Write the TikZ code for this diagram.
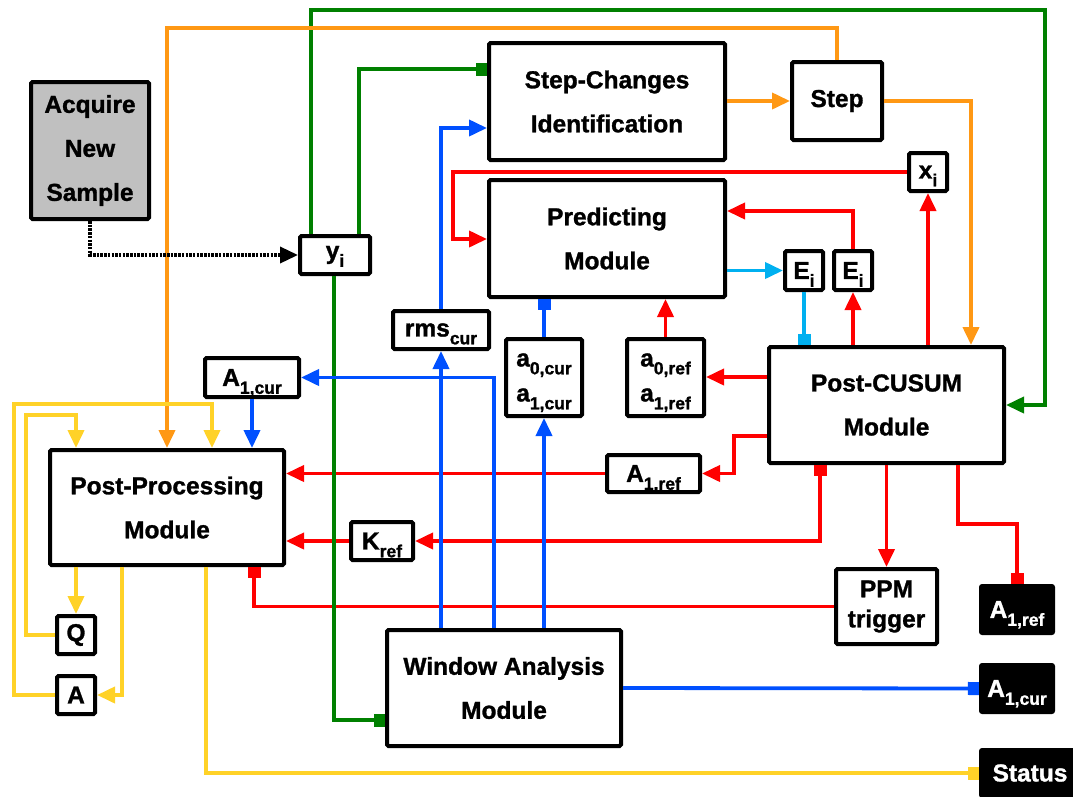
\documentclass[tikz,border=0pt]{standalone}
\usepackage{fontspec}
\setmainfont{Liberation Sans}[BoldFeatures={FakeBold=1.2}]
\usetikzlibrary{arrows.meta}
% subscript that hangs below the baseline without changing the line's depth
\newcommand{\lowidx}[1]{\raisebox{-0.32em}[0pt][0pt]{\fontsize{17.5}{17.5}\selectfont #1}}
\definecolor{wgreen}{RGB}{0,128,0}
\definecolor{worange}{RGB}{255,152,20}
\definecolor{wblue}{RGB}{0,80,255}
\definecolor{wcyan}{RGB}{0,176,240}
\definecolor{wred}{RGB}{255,0,0}
\definecolor{wyellow}{RGB}{255,210,40}
\definecolor{wgray}{RGB}{192,192,192}
\begin{document}
\begin{tikzpicture}[x=1pt,y=-1pt,
  box/.style={draw, line width=4pt, rounded corners=1.5pt, inner sep=0pt, align=center,
    font=\bfseries\fontsize{24.5}{44}\selectfont},
  outbox/.style={fill=black, text=white, rounded corners=3pt, inner sep=0pt, align=center,
    font=\bfseries\fontsize{24.5}{30}\selectfont},
  sz/.style n args={2}{minimum width=#1pt, minimum height=#2pt},
  wire/.style={line width=3.8pt},
  arr/.style={-{Triangle[length=18pt,width=16pt]}},
  sq/.style={-{Square[length=11pt,width=13pt]}},
  sqarr/.style={{Triangle[length=18pt,width=16pt]}-{Square[length=11pt,width=13pt]}},
]
\path[fill=white,use as bounding box] (0,0) rectangle (1073,796);

% ---- blocks ----
\node[box, fill=wgray, sz={118}{137}] (acq) at (90,150.5) {Acquire\\New\\Sample};
\node[box, sz={236}{117}] (sci) at (607,101.5) {Step-Changes\\Identification};
\node[box, sz={90}{78}] (step) at (837,101) {Step};
\node[box, sz={236}{117}] (pred) at (607,238.5) {Predicting\\Module};
\node[box, sz={38}{38}] (xi) at (928,172) {x\lowidx{i}};
\node[box, sz={38}{39}] (e1) at (804,270.5) {E\lowidx{i}};
\node[box, sz={38}{39}] (e2) at (853,270.5) {E\lowidx{i}};
\node[box, sz={70}{38}] (yi) at (335,255) {y\lowidx{i}};
\node[box, sz={96}{38}] (rms) at (441,330) {rms\lowidx{cur}};
\node[box, sz={76}{77}, font=\bfseries\fontsize{24.5}{35}\selectfont] (acur) at (544,377.5)
  {a\lowidx{0,cur}\\a\lowidx{1,cur}};
\node[box, sz={77}{77}, font=\bfseries\fontsize{24.5}{35}\selectfont] (aref) at (665.5,377.5)
  {a\lowidx{0,ref}\\a\lowidx{1,ref}};
\node[box, sz={235}{116}] (pc) at (886.5,405) {Post-CUSUM\\Module};
\node[box, sz={93}{37}] (a1ref) at (653.5,473.5) {A\lowidx{1,ref}};
\node[box, sz={101}{75}, font=\bfseries\fontsize{24.5}{30}\selectfont] (ppm) at (886.5,606.5) {PPM\\trigger};
\node[outbox, sz={76}{51}] (bref) at (1017,609.5) {A\lowidx{1,ref}};
\node[outbox, sz={76}{51}] (bcur) at (1017,688.5) {A\lowidx{1,cur}};
\node[outbox, sz={102}{50}] (status) at (1030,773) {Status};
\node[box, sz={234}{116}] (win) at (504,688) {Window Analysis\\Module};
\node[box, sz={234}{115}] (pp) at (167,507.5) {Post-Processing\\Module};
\node[box, sz={94}{39}] (a1cur) at (252,377.5) {A\lowidx{1,cur}};
\node[box, sz={62}{38}] (kref) at (382,541) {K\lowidx{ref}};
\node[box, sz={38}{38}] (q) at (76,635) {Q};
\node[box, sz={38}{38}] (a) at (76,695) {A};

% ---- red links ----
\draw[wire,wred,arr] (pc.north -| e2.south) -- (e2.south);
\draw[wire,wred,arr] (e2.north) |- (pred.east |- 0,211);
\draw[wire,wred,arr] (pc.north -| xi.south) -- (xi.south);
\draw[wire,wred,arr] (xi.west) -- (453,172) |- (pred.west |- 0,239);
\draw[wire,wred,arr] (pc.west |- 0,377) -- (aref.east |- 0,377);
\draw[wire,wred,arr] (aref.north) -- (pred.south -| aref.north);
\draw[wire,wred,arr] (pc.west |- 0,436) -- (734,436) |- (a1ref.east);
\draw[wire,wred,arr] (a1ref.west) -- (pp.east |- a1ref.west);
\draw[wire,wred,sqarr] (kref.east) -| (pc.south -| 820,0);
\draw[wire,wred,arr] (kref.west) -- (pp.east |- kref.west);
\draw[wire,wred,arr] (pc.south) -- (ppm.north);
\draw[wire,wred,sq] (ppm.west) -| (pp.south -| 254,0);
\draw[wire,wred,sq] (pc.south -| 958,0) -- (958,524) -| (bref.north);

% ---- green links ----
\draw[wire,wgreen,arr] (yi.north -| 311,0) -- (311,10) -- (1045,10) |- (pc.east);
\draw[wire,wgreen,sq] (yi.north -| 359,0) |- (sci.west |- 0,69);
\draw[wire,wgreen,sq] (yi.south -| 334,0) |- (win.west |- 0,720);

% ---- orange links ----
\draw[wire,worange,arr] (step.north) -- (837,28) -| (pp.north -| 167,0);
\draw[wire,worange,arr] (step.west -| sci.east) -- (step.west);
\draw[wire,worange,arr] (step.east) -| (pc.north -| 971,0);

% ---- blue links ----
\draw[wire,wblue,arr] (win.north -| rms.south) -- (rms.south);
\draw[wire,wblue,arr] (rms.north) |- (sci.west |- 0,128);
\draw[wire,wblue,arr] (win.north -| 494,0) |- (a1cur.east);
\draw[wire,wblue,arr] (a1cur.south) -- (pp.north -| a1cur.south);
\draw[wire,wblue,arr] (win.north -| acur.south) -- (acur.south);
\draw[wire,wblue,sq] (acur.north) -- (pred.south -| acur.north);
\draw[wire,wblue,sq] (win.east) -- (bcur.west);

% ---- light blue links ----
\draw[wire,wcyan,arr] (pred.east |- e1.west) -- (e1.west);
\draw[wire,wcyan,sq] (e1.south) -- (pc.north -| e1.south);

% ---- yellow links ----
\draw[wire,wyellow,arr] (pp.south -| q.north) -- (q.north);
\draw[wire,wyellow,arr] (q.west) -- (26,635) -- (26,415) -| (pp.north -| q.north);
\draw[wire,wyellow,arr] (pp.south -| 122,0) |- (a.east);
\draw[wire,wyellow,arr] (a.west) -- (14,695) -- (14,404) -| (pp.north -| 212,0);
\draw[wire,wyellow,sq] (pp.south -| 206,0) |- (status.west);

% ---- sample acquisition ----
\draw[line width=3.5pt, dash pattern=on 2.5pt off 1.2pt, arr] (acq.south) |- (yi.west);
\end{tikzpicture}
\end{document}
